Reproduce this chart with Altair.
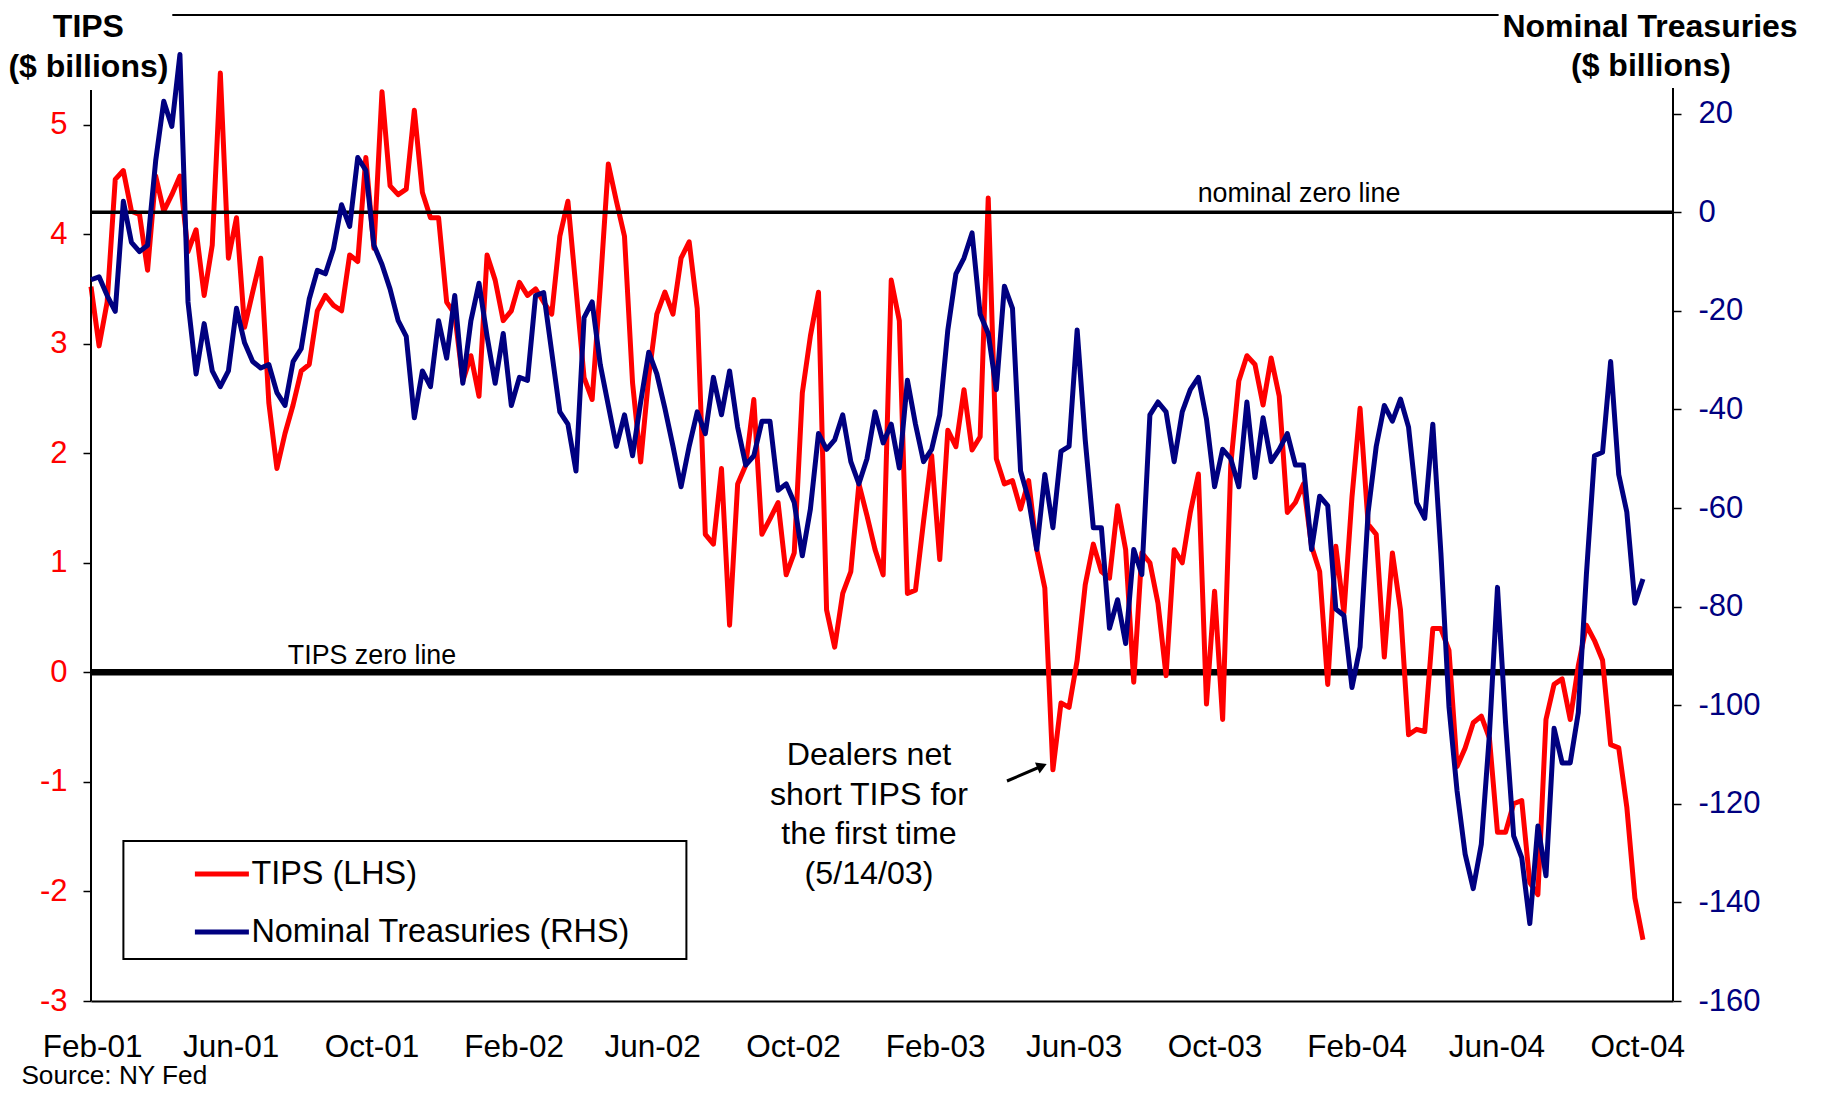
import altair as alt
import pandas as pd

FONT = "Liberation Sans"

# ---------------- data (weekly, Wednesdays) ----------------
START_DATE = "2001-01-31"
END_DATE = "2004-11-01"

TIPS = [
    3.52, 2.98, 3.38, 4.50, 4.58, 4.21, 4.18, 3.67, 4.53, 4.21, 4.36, 4.53, 3.84, 4.04, 3.44, 3.90,
    5.47, 3.78, 4.15, 3.15, 3.47, 3.78, 2.46, 1.86, 2.18, 2.44, 2.75, 2.81, 3.30, 3.44, 3.35, 3.30,
    3.81, 3.75, 4.70, 3.87,
    5.30, 4.44, 4.36, 4.41, 5.13, 4.38, 4.15, 4.15, 3.38, 3.27, 2.66, 2.89, 2.52, 3.81, 3.58, 3.21,
    3.30, 3.56, 3.44, 3.50, 3.38, 3.27, 3.98, 4.30, 3.50, 2.69, 2.49, 3.52, 4.64, 4.30, 3.98, 2.64,
    1.92, 2.70,
    3.27, 3.47, 3.27, 3.78, 3.93, 3.32, 1.26, 1.17, 1.86, 0.43, 1.72, 1.89, 2.49, 1.26, 1.40, 1.55,
    0.89, 1.09, 2.55, 3.07, 3.47, 0.57, 0.23, 0.72, 0.92, 1.72, 1.43, 1.12, 0.89, 3.58, 3.21, 0.72,
    0.75, 1.38, 1.98,
    1.03, 2.21, 2.06, 2.58, 2.03, 2.15, 4.33, 1.95, 1.72, 1.75, 1.49, 1.75, 1.12, 0.77, -0.89, -0.28,
    -0.32, 0.11, 0.80, 1.17, 0.92, 0.86, 1.52, 1.12, -0.09, 1.09, 1.00, 0.63, -0.03, 1.12, 1.00, 1.46,
    1.81, -0.29, 0.74,
    -0.43, 1.89, 2.66, 2.89, 2.81, 2.44, 2.87, 2.52, 1.46, 1.55, 1.72, 1.15, 0.92, -0.11, 1.15, 0.54,
    1.60, 2.41, 1.35, 1.26, 0.14, 1.09, 0.57, -0.57, -0.52, -0.54, 0.40, 0.40, 0.20, -0.86, -0.69, -0.46,
    -0.40, -0.60,
    -1.46, -1.46, -1.20, -1.17, -1.92, -2.03, -0.43, -0.11, -0.06, -0.43, 0.06, 0.43, 0.29, 0.11, -0.66, -0.69,
    -1.23, -2.06, -2.44,
]

NOMINAL = [
    -13.7, -13.1, -16.9, -20.1, 2.2, -6.1, -8.0, -6.7, 10.4, 22.5, 17.4, 32.0, -18.2, -32.8, -22.6, -32.2,
    -35.4, -32.2, -19.5, -26.5, -30.3, -31.6, -30.9, -36.6, -39.2, -30.3, -27.7, -17.6, -11.8, -12.5, -7.4, 1.5,
    -2.9, 11.1, 8.5, -6.7,
    -10.6, -15.6, -22.0, -25.2, -41.7, -32.2, -35.4, -22.0, -29.6, -16.9, -34.7, -22.0, -14.4, -25.2, -34.7, -24.6,
    -39.2, -33.5, -34.1, -16.9, -16.3, -28.4, -40.5, -43.0, -52.5, -21.4, -18.2, -30.9, -39.2, -47.5, -41.1, -49.4,
    -38.5, -28.4,
    -32.8, -39.8, -47.5, -55.7, -47.5, -40.5, -44.9, -33.5, -41.1, -32.2, -43.6, -51.3, -49.4, -42.4, -42.4, -56.4,
    -55.1, -58.9, -69.7, -60.2, -44.9, -48.1, -46.2, -41.1, -50.6, -55.1, -50.0, -40.5, -46.8, -43.0, -51.9, -34.1,
    -43.0, -50.6, -48.1,
    -41.1, -23.9, -12.5, -9.3, -4.2, -20.7, -24.6, -36.0, -15.0, -19.5, -52.5, -58.3, -68.4, -53.2, -64.0, -48.5,
    -47.5, -23.9, -46.2, -64.0, -64.0, -84.4, -78.6, -87.5, -68.4, -73.5, -41.1, -38.5, -40.5, -50.6, -40.5, -36.0,
    -33.5, -42.0, -55.7,
    -48.1, -50.0, -55.7, -38.5, -53.8, -41.7, -50.6, -48.1, -44.9, -51.3, -51.3, -68.4, -57.6, -59.5, -80.5, -81.8,
    -96.4, -88.2, -60.8, -47.5, -39.2, -42.4, -37.9, -43.6, -58.9, -62.1, -43.0, -69.1, -100.3, -117.4, -130.2, -137.2,
    -128.2, -106.0,
    -76.1, -103.6, -126.5, -130.9, -144.3, -124.5, -134.6, -104.7, -111.7, -111.7, -101.5, -73.5, -49.4, -48.7, -30.3, -53.2,
    -60.8, -79.3, -74.4,
]

SERIES = ["TIPS (LHS)", "Nominal Treasuries (RHS)"]
COLORS = ["#FF0000", "#000080"]

X_TICKS = ["2001-02-01", "2001-06-01", "2001-10-01", "2002-02-01", "2002-06-01", "2002-10-01",
           "2003-02-01", "2003-06-01", "2003-10-01", "2004-02-01", "2004-06-01", "2004-10-01"]
LEFT_TICKS = [-3, -2, -1, 0, 1, 2, 3, 4, 5]
RIGHT_TICKS = [-160, -140, -120, -100, -80, -60, -40, -20, 0, 20]
LEFT_DOMAIN = [-3, 6]
RIGHT_DOMAIN = [-160, 40]

TITLE_LEFT = ["TIPS", "($ billions)"]
TITLE_RIGHT = ["Nominal Treasuries", "($ billions)"]
NOMINAL_ZERO_LABEL = "nominal zero line"
TIPS_ZERO_LABEL = "TIPS zero line"
ANNOTATION = "Dealers net\nshort TIPS for\nthe first time\n(5/14/03)"
SOURCE = "Source: NY Fed"

# ---------------- layout ----------------
W, H = 1582, 986

dates = pd.date_range(START_DATE, periods=len(TIPS), freq="7D").strftime("%Y-%m-%d")
tips_df = pd.DataFrame({"date": dates, "value": TIPS, "series": SERIES[0]})
nom_df = pd.DataFrame({"date": dates, "value": NOMINAL, "series": SERIES[1]})


def dt(s):
    y, m, d = (int(p) for p in s.split("-"))
    return alt.DateTime(year=y, month=m, date=d, utc=True)


x_enc = alt.X(
    "date:T",
    scale=alt.Scale(type="utc", domain=[dt(START_DATE), dt(END_DATE)]),
    axis=alt.Axis(
        values=[dt(s) for s in X_TICKS], format="%b-%y", labelFlush=False, labelOverlap=False,
        ticks=False, grid=False, domain=True, domainColor="black", domainWidth=2,
        labelFontSize=31.5, labelFont=FONT, labelColor="black", labelPadding=30, title=None,
    ),
)

left_scale = alt.Scale(domain=LEFT_DOMAIN, nice=False, zero=False)
right_scale = alt.Scale(domain=RIGHT_DOMAIN, nice=False, zero=False)

common_axis = dict(
    title=None, grid=False, domain=False, ticks=True, tickSize=8, tickColor="black", tickWidth=1.5,
    labelFontSize=31, labelFont=FONT, labelExpr="'' + datum.value",
)
left_axis = alt.Axis(orient="left", values=LEFT_TICKS, labelColor="#FF0000", labelPadding=16, **common_axis)
right_axis = alt.Axis(orient="right", values=RIGHT_TICKS, labelColor="#000080", labelPadding=17, **common_axis)

color_enc = alt.Color(
    "series:N",
    scale=alt.Scale(domain=SERIES, range=COLORS),
    legend=alt.Legend(
        title=None, orient="none", legendX=32.4, legendY=814.5, direction="vertical",
        padding=15,
        symbolType="stroke", symbolSize=2916, symbolStrokeWidth=5, symbolOffset=54,
        labelOffset=0, labelFontSize=32.4, labelFont=FONT, labelColor="black", labelLimit=0,
        rowPadding=12,
    ),
)

one = pd.DataFrame({"a": [0]})

tips_zero = alt.Chart(one).mark_rule(color="black", strokeWidth=6.5).encode(
    y=alt.Y("a:Q", scale=left_scale, axis=left_axis)
)
tips_line = alt.Chart(tips_df).mark_line(strokeWidth=5, strokeJoin="round").encode(
    x=x_enc, y=alt.Y("value:Q", scale=left_scale, axis=left_axis), color=color_enc
)

nom_zero = alt.Chart(one).mark_rule(color="black", strokeWidth=3.5).encode(
    y=alt.Y("a:Q", scale=right_scale, axis=right_axis)
)
nom_line = alt.Chart(nom_df).mark_line(strokeWidth=5, strokeJoin="round").encode(
    x=x_enc, y=alt.Y("value:Q", scale=right_scale, axis=right_axis), color=color_enc
)

left_layer = alt.layer(tips_zero, tips_line)
right_layer = alt.layer(nom_zero, nom_line)


def text(t, x, y, size, weight="normal", align="center", baseline="middle", **kw):
    return alt.Chart(pd.DataFrame({"t": [t]})).mark_text(
        fontSize=size, fontWeight=weight, align=align, baseline=baseline, font=FONT, color="black", **kw
    ).encode(x=alt.value(x), y=alt.value(y), text="t:N")


def line(x1, y1, x2, y2, width=2):
    return alt.Chart(one).mark_rule(color="black", strokeWidth=width).encode(
        x=alt.value(x1), x2=alt.value(x2), y=alt.value(y1), y2=alt.value(y2)
    )


legend_box = alt.Chart(one).mark_rect(fill="white", stroke="black", strokeWidth=2).encode(
    x=alt.value(32.4), x2=alt.value(595.4), y=alt.value(826), y2=alt.value(944)
)

deco = alt.layer(
    line(81.3, 0, 1407.6, 0),          # top frame
    line(0, 75, 0, H),                 # left axis line
    line(W, 73, W, H),                 # right axis line
    legend_box,
    text(TITLE_LEFT[0], -2.6, 12, 32, "bold"),
    text(TITLE_LEFT[1], -2.6, 52, 32, "bold"),
    text(TITLE_RIGHT[0], 1559, 11.5, 32, "bold"),
    text(TITLE_RIGHT[1], 1560, 51, 32, "bold"),
    text(NOMINAL_ZERO_LABEL, 1208, 179, 26.8),
    text(TIPS_ZERO_LABEL, 281, 641, 26.8),
    text(ANNOTATION, 778, 740, 32.2, lineBreak="\n", lineHeight=39.5),
    text(SOURCE, -69.6, 1061, 26.2, align="left"),
    line(916, 766, 951, 751, 3),
    alt.Chart(one).mark_point(shape="triangle-right", filled=True, size=140, angle=337,
                              color="black", opacity=1).encode(x=alt.value(951), y=alt.value(751)),
)

chart = (
    alt.layer(left_layer, deco, right_layer)
    .resolve_scale(y="independent")
    .properties(
        width=W, height=H, background="white",
        padding={"left": 83, "top": 7, "right": 140, "bottom": 90},
        autosize=alt.AutoSizeParams(type="none"),
    )
    .configure_view(stroke=None)
)

chart.save("out.html", embed_options={"renderer": "svg", "actions": False})
